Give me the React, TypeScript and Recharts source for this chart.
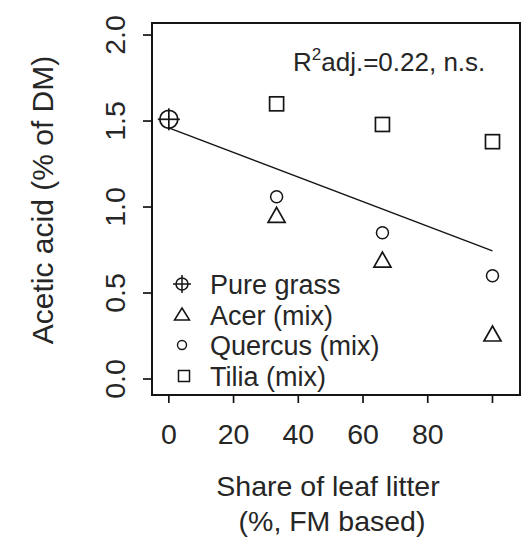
import React from 'react';
import { ScatterChart, Scatter, XAxis, YAxis, ReferenceArea, ReferenceLine, Legend } from 'recharts';

// ---- data ----
const shares = [33.3, 66, 100];
const pureGrassX = [0];
const pureGrassY = [1.51];
const acerY = [0.94, 0.68, 0.25];
const quercusY = [1.06, 0.85, 0.6];
const tiliaY = [1.6, 1.48, 1.38];
const fitX = [0, 100];
const fitY = [1.46, 0.745];
const xTicks = [0, 20, 40, 60, 80, 100];
const xTickLabels = ['0', '20', '40', '60', '80', ''];
const yTicks = [0, 0.5, 1.0, 1.5, 2.0];
const yTickLabels = ['0.0', '0.5', '1.0', '1.5', '2.0'];
const seriesNames = ['Pure grass', 'Acer (mix)', 'Quercus (mix)', 'Tilia (mix)'];
const statText = 'adj.=0.22, n.s.';

const pureData = pureGrassX.map((x, i) => ({ x, y: pureGrassY[i] }));
const acerData = shares.map((x, i) => ({ x, y: acerY[i] }));
const quercusData = shares.map((x, i) => ({ x, y: quercusY[i] }));
const tiliaData = shares.map((x, i) => ({ x, y: tiliaY[i] }));

const FONT = '"Liberation Sans", Arial, sans-serif';
const TXT = '#262626';
const INK = '#151515';

const Cross = ({ cx, cy, r = 9, arm = 11, sw = 1.7 }: any) => (
  <g>
    <circle cx={cx} cy={cy} r={r} fill="none" stroke={INK} strokeWidth={sw} />
    <line x1={cx - arm} y1={cy} x2={cx + arm} y2={cy} stroke={INK} strokeWidth={sw} />
    <line x1={cx} y1={cy - arm} x2={cx} y2={cy + arm} stroke={INK} strokeWidth={sw} />
  </g>
);
const Tri = ({ cx, cy, w = 17, h = 15, sw = 1.7 }: any) => (
  <polygon
    points={`${cx},${cy - (2 * h) / 3} ${cx + w / 2},${cy + h / 3} ${cx - w / 2},${cy + h / 3}`}
    fill="none"
    stroke={INK}
    strokeWidth={sw}
  />
);
const Circ = ({ cx, cy, r = 6, sw = 1.5 }: any) => (
  <circle cx={cx} cy={cy} r={r} fill="none" stroke={INK} strokeWidth={sw} />
);
const Sq = ({ cx, cy, s = 14, sw = 1.7 }: any) => (
  <rect x={cx - s / 2} y={cy - s / 2} width={s} height={s} fill="none" stroke={INK} strokeWidth={sw} />
);

const renderLegend = () => {
  const rowY = [284, 315, 345, 376];
  const symX = 182;
  const syms = [
    (y: number) => <Cross cx={symX} cy={y} r={6} arm={9} sw={1.5} />,
    (y: number) => <Tri cx={symX} cy={y + 1} w={15} h={12} sw={1.5} />,
    (y: number) => <Circ cx={symX} cy={y} r={4.5} sw={1.4} />,
    (y: number) => <Sq cx={symX + 2} cy={y} s={11} sw={1.5} />,
  ];
  return (
    <svg width={521} height={539} style={{ position: 'absolute', left: 0, top: 0, pointerEvents: 'none' }}>
      {seriesNames.map((n, i) => (
        <g key={n}>
          {syms[i](rowY[i])}
          <text x={210} y={rowY[i] + 10} fontFamily={FONT} fontSize={27} fill={TXT}>
            {n}
          </text>
        </g>
      ))}
    </svg>
  );
};

const XTick = (props: any) => {
  const { x, y, payload } = props;
  const idx = xTicks.indexOf(payload.value);
  return (
    <text x={x} y={y + 39} textAnchor="middle" fontFamily={FONT} fontSize={28.5} fill={TXT}>
      {idx >= 0 ? xTickLabels[idx] : ''}
    </text>
  );
};

const YTick = (props: any) => {
  const { x, y, payload } = props;
  const idx = yTicks.indexOf(payload.value);
  const tx = x - 16;
  return (
    <text
      x={tx}
      y={y}
      transform={`rotate(-90, ${tx}, ${y})`}
      textAnchor="middle"
      fontFamily={FONT}
      fontSize={28.5}
      fill={TXT}
    >
      {idx >= 0 ? yTickLabels[idx] : ''}
    </text>
  );
};

const XTitle = (props: any) => {
  const vb = props.viewBox || {};
  const cx = (vb.x ?? 152) + (vb.width ?? 368) / 2 - 6;
  const top = vb.y ?? 395;
  return (
    <g>
      <text x={cx - 2} y={top + 101} textAnchor="middle" fontFamily={FONT} fontSize={28.5} fill={TXT}>
        Share of leaf litter
      </text>
      <text x={cx + 2} y={top + 136} textAnchor="middle" fontFamily={FONT} fontSize={28.5} fill={TXT}>
        (%, FM based)
      </text>
    </g>
  );
};

const YTitle = (props: any) => {
  const vb = props.viewBox || {};
  const x = 53;
  const y = (vb.y ?? 23) + (vb.height ?? 372) / 2 - 9;
  return (
    <text x={x} y={y} transform={`rotate(-90, ${x}, ${y})`} textAnchor="middle" fontFamily={FONT} fontSize={30} fill={TXT}>
      Acetic acid (% of DM)
    </text>
  );
};

const StatLabel = () => {
  const x = 293;
  const y = 71;
  return (
    <text x={x} y={y} fontFamily={FONT} fontSize={26} fill={TXT}>
      R<tspan fontSize={17} dy={-11}>2</tspan>
      <tspan dy={11}>{statText}</tspan>
    </text>
  );
};

export default function App() {
  return (
    <div style={{ position: 'absolute', left: 0, top: 0, width: 521, height: 539, background: '#fff' }}>
      <ScatterChart width={521} height={539} margin={{ top: 23, right: 1, bottom: 0, left: 0 }}>
        <XAxis
          type="number"
          dataKey="x"
          domain={[-5.2, 108.5]}
          ticks={xTicks}
          allowDataOverflow
          axisLine={false}
          tickLine={{ stroke: INK, strokeWidth: 1.7 }}
          tickSize={8}
          height={144}
          tick={<XTick />}
          label={<XTitle />}
          interval={0}
        />
        <YAxis
          type="number"
          dataKey="y"
          domain={[-0.093, 2.07]}
          ticks={yTicks}
          allowDataOverflow
          axisLine={false}
          tickLine={{ stroke: INK, strokeWidth: 1.7 }}
          tickSize={9}
          width={152}
          tick={<YTick />}
          label={<YTitle />}
          interval={0}
        />
        <ReferenceArea
          x1={-5.2}
          x2={108.5}
          y1={-0.093}
          y2={2.07}
          fill="none"
          fillOpacity={0}
          stroke={INK}
          strokeWidth={2}
          label={<StatLabel />}
        />
        <ReferenceLine
          segment={[
            { x: fitX[0], y: fitY[0] },
            { x: fitX[1], y: fitY[1] },
          ]}
          stroke={INK}
          strokeWidth={1.5}
        />
        <Scatter name={seriesNames[0]} data={pureData} isAnimationActive={false} shape={(p: any) => <Cross cx={p.cx} cy={p.cy} />} />
        <Scatter name={seriesNames[1]} data={acerData} isAnimationActive={false} shape={(p: any) => <Tri cx={p.cx} cy={p.cy} />} />
        <Scatter name={seriesNames[2]} data={quercusData} isAnimationActive={false} shape={(p: any) => <Circ cx={p.cx} cy={p.cy} />} />
        <Scatter name={seriesNames[3]} data={tiliaData} isAnimationActive={false} shape={(p: any) => <Sq cx={p.cx} cy={p.cy} />} />
        <Legend
          layout="horizontal"
          verticalAlign="middle"
          align="center"
          content={renderLegend}
          wrapperStyle={{ position: 'absolute', left: 0, top: 0, width: 521, height: 539, pointerEvents: 'none' }}
        />
      </ScatterChart>
    </div>
  );
}
